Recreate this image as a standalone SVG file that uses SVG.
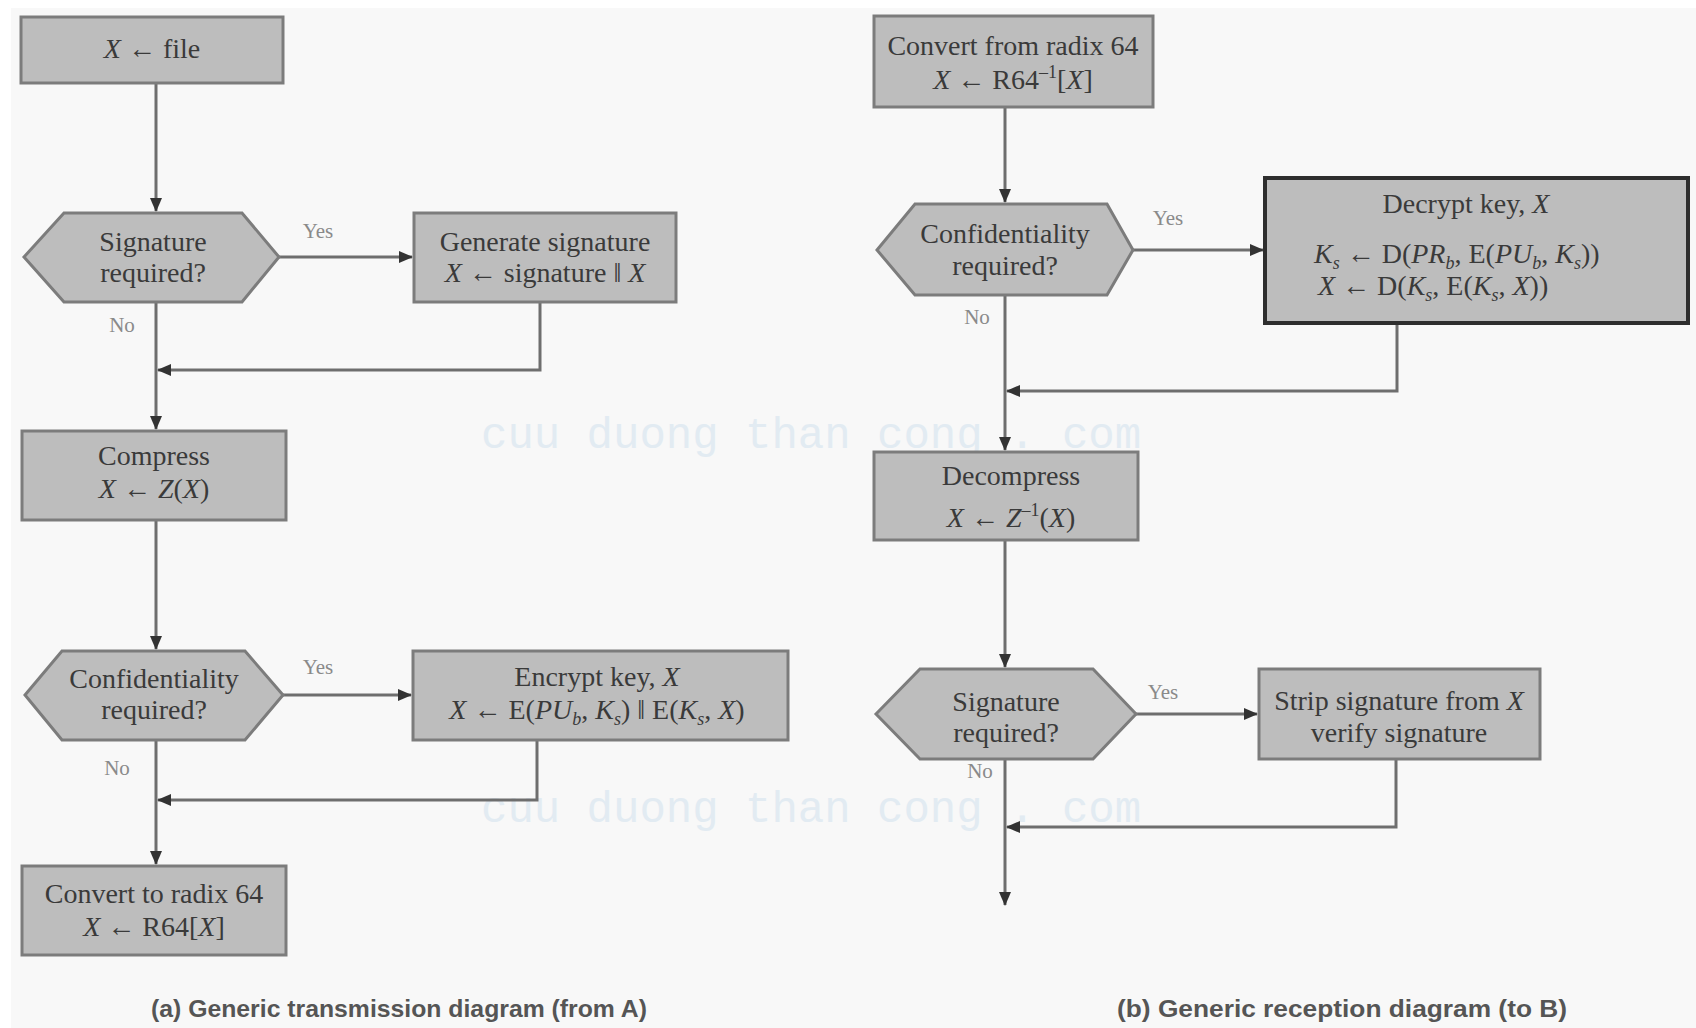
<svg xmlns="http://www.w3.org/2000/svg" width="1696" height="1028" viewBox="0 0 1696 1028">
<style>
.box{fill:#bdbdbd;stroke:#7c7c7c;stroke-width:3}
.hex{fill:#bdbdbd;stroke:#7c7c7c;stroke-width:3}
.dark{stroke:#2e2e2e;stroke-width:4}
.t{font-family:"Liberation Serif","Times New Roman",serif;font-size:28px;fill:#3a3a3a;text-anchor:middle}
.ts{text-anchor:start}
.i{font-style:italic}
.sub{font-size:18px}
.lbl{font-family:"Liberation Serif","Times New Roman",serif;font-size:21px;fill:#8a8a8a;text-anchor:middle}
.cap{font-family:"Liberation Sans",Arial,sans-serif;font-size:24px;fill:#555;font-weight:bold}
.wm{font-family:"Liberation Mono","Courier New",monospace;font-size:44px;fill:#e2ebf2}
.c{fill:none;stroke:#6e6e6e;stroke-width:3}
</style>
<defs>
<marker id="arr" markerUnits="userSpaceOnUse" markerWidth="14" markerHeight="12" viewBox="0 0 14 12" refX="13" refY="6" orient="auto">
<path d="M0,0 L14,6 L0,12 z" fill="#333"/>
</marker>
</defs>
<rect x="0" y="0" width="1696" height="1028" fill="#ffffff"/>
<rect x="11" y="8" width="1685" height="1020" fill="#f8f8f8"/>

<g id="watermark">
<text class="wm" x="481" y="448">cuu duong than cong . com</text>
<text class="wm" x="481" y="822">cuu duong than cong . com</text>
</g>

<g id="connectors">
<path class="c" d="M156,83 V211" marker-end="url(#arr)"/>
<path class="c" d="M279,257 H412" marker-end="url(#arr)"/>
<path class="c" d="M156,302 V429" marker-end="url(#arr)"/>
<path class="c" d="M540,302 V370 H158" marker-end="url(#arr)"/>
<path class="c" d="M156,520 V649" marker-end="url(#arr)"/>
<path class="c" d="M283,695 H411" marker-end="url(#arr)"/>
<path class="c" d="M156,740 V864" marker-end="url(#arr)"/>
<path class="c" d="M537,740 V800 H158" marker-end="url(#arr)"/>

<path class="c" d="M1005,107 V202" marker-end="url(#arr)"/>
<path class="c" d="M1133,250 H1263" marker-end="url(#arr)"/>
<path class="c" d="M1005,295 V450" marker-end="url(#arr)"/>
<path class="c" d="M1397,323 V391 H1007" marker-end="url(#arr)"/>
<path class="c" d="M1005,540 V667" marker-end="url(#arr)"/>
<path class="c" d="M1136,714 H1257" marker-end="url(#arr)"/>
<path class="c" d="M1005,759 V905" marker-end="url(#arr)"/>
<path class="c" d="M1396,759 V827 H1007" marker-end="url(#arr)"/>
</g>

<g id="labels">
<text class="lbl" x="318" y="238">Yes</text>
<text class="lbl" x="122" y="332">No</text>
<text class="lbl" x="318" y="674">Yes</text>
<text class="lbl" x="117" y="775">No</text>
<text class="lbl" x="1168" y="225">Yes</text>
<text class="lbl" x="977" y="324">No</text>
<text class="lbl" x="1163" y="699">Yes</text>
<text class="lbl" x="980" y="778">No</text>
</g>

<g id="n-file">
<rect class="box" x="21" y="17" width="262" height="66"/>
<text class="t" x="152" y="58"><tspan class="i">X</tspan> ← file</text>
</g>

<g id="n-sigreq-a">
<polygon class="hex" points="24,257 64,213 242,213 279,257 242,302 64,302"/>
<text class="t" x="153" y="251">Signature</text>
<text class="t" x="153" y="282">required?</text>
</g>

<g id="n-gensig">
<rect class="box" x="414" y="213" width="262" height="89"/>
<text class="t" x="545" y="251">Generate signature</text>
<text class="t" x="545" y="282"><tspan class="i">X</tspan> ← signature ‖ <tspan class="i">X</tspan></text>
</g>

<g id="n-compress">
<rect class="box" x="22" y="431" width="264" height="89"/>
<text class="t" x="154" y="465">Compress</text>
<text class="t" x="154" y="498"><tspan class="i">X</tspan> ← <tspan class="i">Z</tspan>(<tspan class="i">X</tspan>)</text>
</g>

<g id="n-confreq-a">
<polygon class="hex" points="25,695 62,651 245,651 283,695 245,740 62,740"/>
<text class="t" x="154" y="688">Confidentiality</text>
<text class="t" x="154" y="719">required?</text>
</g>

<g id="n-encrypt">
<rect class="box" x="413" y="651" width="375" height="89"/>
<text class="t" x="597" y="686">Encrypt key, <tspan class="i">X</tspan></text>
<text class="t" x="597" y="719"><tspan class="i">X</tspan> ← E(<tspan class="i">PU</tspan><tspan class="sub i" dy="6">b</tspan><tspan dy="-6">, </tspan><tspan class="i">K</tspan><tspan class="sub i" dy="6">s</tspan><tspan dy="-6">) ‖ E(</tspan><tspan class="i">K</tspan><tspan class="sub i" dy="6">s</tspan><tspan dy="-6">, </tspan><tspan class="i">X</tspan>)</text>
</g>

<g id="n-r64">
<rect class="box" x="22" y="866" width="264" height="89"/>
<text class="t" x="154" y="903">Convert to radix 64</text>
<text class="t" x="154" y="936"><tspan class="i">X</tspan> ← R64[<tspan class="i">X</tspan>]</text>
</g>

<g id="n-fromr64">
<rect class="box" x="874" y="16" width="279" height="91"/>
<text class="t" x="1013" y="55">Convert from radix 64</text>
<text class="t" x="1013" y="89"><tspan class="i">X</tspan> ← R64<tspan class="sub" dy="-11">–1</tspan><tspan dy="11">[</tspan><tspan class="i">X</tspan>]</text>
</g>

<g id="n-confreq-b">
<polygon class="hex" points="877,250 915,204 1107,204 1133,250 1107,295 915,295"/>
<text class="t" x="1005" y="243">Confidentiality</text>
<text class="t" x="1005" y="275">required?</text>
</g>

<g id="n-decrypt">
<rect class="box dark" x="1265" y="178" width="423" height="145"/>
<text class="t" x="1466" y="213">Decrypt key, <tspan class="i">X</tspan></text>
<text class="t ts" x="1314" y="263"><tspan class="i">K</tspan><tspan class="sub i" dy="6">s</tspan><tspan dy="-6"> ← D(</tspan><tspan class="i">PR</tspan><tspan class="sub i" dy="6">b</tspan><tspan dy="-6">, E(</tspan><tspan class="i">PU</tspan><tspan class="sub i" dy="6">b</tspan><tspan dy="-6">, </tspan><tspan class="i">K</tspan><tspan class="sub i" dy="6">s</tspan><tspan dy="-6">))</tspan></text>
<text class="t ts" x="1318" y="295"><tspan class="i">X</tspan> ← D(<tspan class="i">K</tspan><tspan class="sub i" dy="6">s</tspan><tspan dy="-6">, E(</tspan><tspan class="i">K</tspan><tspan class="sub i" dy="6">s</tspan><tspan dy="-6">, </tspan><tspan class="i">X</tspan>))</text>
</g>

<g id="n-decompress">
<rect class="box" x="874" y="452" width="264" height="88"/>
<text class="t" x="1011" y="485">Decompress</text>
<text class="t" x="1011" y="527"><tspan class="i">X</tspan> ← <tspan class="i">Z</tspan><tspan class="sub" dy="-11">–1</tspan><tspan dy="11">(</tspan><tspan class="i">X</tspan>)</text>
</g>

<g id="n-sigreq-b">
<polygon class="hex" points="876,714 920,669 1093,669 1136,714 1093,759 920,759"/>
<text class="t" x="1006" y="711">Signature</text>
<text class="t" x="1006" y="742">required?</text>
</g>

<g id="n-strip">
<rect class="box" x="1259" y="669" width="281" height="90"/>
<text class="t" x="1399" y="710">Strip signature from <tspan class="i">X</tspan></text>
<text class="t" x="1399" y="742">verify signature</text>
</g>

<g id="captions">
<text class="cap" x="151" y="1017" textLength="496" lengthAdjust="spacingAndGlyphs">(a) Generic transmission diagram (from A)</text>
<text class="cap" x="1117" y="1017" textLength="450" lengthAdjust="spacingAndGlyphs">(b) Generic reception diagram (to B)</text>
</g>
</svg>
